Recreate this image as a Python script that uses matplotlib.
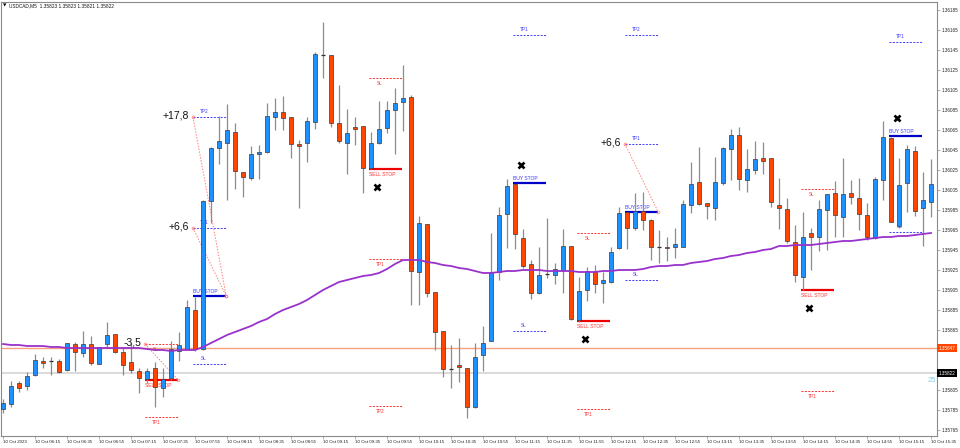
import matplotlib
matplotlib.use('Agg')
import matplotlib.pyplot as plt
from matplotlib.transforms import blended_transform_factory, ScaledTranslation

plt.rcParams['font.family'] = ['Liberation Sans', 'DejaVu Sans']

# ------------------------------------------------------------------
# USDCAD M5 candles
# ------------------------------------------------------------------
open_ = [1.35786, 1.35791, 1.35812, 1.35809, 1.35820, 1.35834, 1.35834, 1.35834, 1.35825, 1.35851,
         1.35842, 1.35851, 1.35831, 1.35851, 1.35861, 1.35843, 1.35833, 1.35824, 1.35816, 1.35827,
         1.35807, 1.35817, 1.35844, 1.35846, 1.35885, 1.35846, 1.35994, 1.36047, 1.36052, 1.36063,
         1.36023, 1.36017, 1.36041, 1.36043, 1.36078, 1.36083, 1.36078, 1.36051, 1.36052, 1.36073,
         1.36140, 1.36140, 1.36072, 1.36052, 1.36068, 1.36069, 1.36027, 1.36052, 1.36067, 1.36085,
         1.36093, 1.36098, 1.35923, 1.35971, 1.35903, 1.35864, 1.35826, 1.35830, 1.35827, 1.35788,
         1.35840, 1.35854, 1.35923, 1.35981, 1.36011, 1.35957, 1.35931, 1.35902, 1.35921, 1.35920,
         1.35925, 1.35949, 1.35875, 1.35905, 1.35923, 1.35912, 1.35913, 1.35947, 1.35983, 1.35967,
         1.35984, 1.35975, 1.35948, 1.35948, 1.35948, 1.35948, 1.35990, 1.36013, 1.35992, 1.35987,
         1.36012, 1.36046, 1.36060, 1.36015, 1.36025, 1.36037, 1.36037, 1.35990, 1.35986, 1.35953,
         1.35918, 1.35962, 1.35958, 1.35985, 1.36002, 1.35978, 1.36002, 1.35997, 1.35980, 1.35957,
         1.36015, 1.36057, 1.35969, 1.36012, 1.36044, 1.35987, 1.35993]

high = [1.35796, 1.35814, 1.35814, 1.35823, 1.35841, 1.35838, 1.35838, 1.35836, 1.35852, 1.35853,
        1.35864, 1.35859, 1.35848, 1.35873, 1.35861, 1.35848, 1.35852, 1.35827, 1.35827, 1.35833,
        1.35827, 1.35854, 1.35863, 1.35895, 1.35898, 1.35995, 1.36048, 1.36079, 1.36091, 1.36072,
        1.36023, 1.36049, 1.36050, 1.36092, 1.36097, 1.36099, 1.36078, 1.36055, 1.36078, 1.36143,
        1.36173, 1.36140, 1.36110, 1.36086, 1.36078, 1.36069, 1.36063, 1.36094, 1.36094, 1.36107,
        1.36130, 1.36100, 1.35979, 1.35971, 1.35903, 1.35864, 1.35850, 1.35857, 1.35827, 1.35852,
        1.35869, 1.35962, 1.35988, 1.36016, 1.36011, 1.35966, 1.35935, 1.35948, 1.35977, 1.35932,
        1.35966, 1.35949, 1.35918, 1.35928, 1.35930, 1.35923, 1.35948, 1.35988, 1.35983, 1.36002,
        1.36003, 1.35976, 1.35965, 1.35958, 1.35967, 1.35995, 1.36033, 1.36048, 1.35992, 1.36038,
        1.36048, 1.36066, 1.36068, 1.36046, 1.36054, 1.36053, 1.36037, 1.36017, 1.35997, 1.35970,
        1.35983, 1.35967, 1.35995, 1.36001, 1.36014, 1.36037, 1.36015, 1.36017, 1.35992, 1.36018,
        1.36074, 1.36058, 1.36037, 1.36050, 1.36049, 1.36023, 1.36036]

low = [1.35782, 1.35788, 1.35803, 1.35805, 1.35819, 1.35827, 1.35820, 1.35822, 1.35824, 1.35824,
       1.35838, 1.35830, 1.35831, 1.35847, 1.35842, 1.35820, 1.35822, 1.35802, 1.35812, 1.35788,
       1.35798, 1.35815, 1.35834, 1.35846, 1.35844, 1.35845, 1.35972, 1.36031, 1.35995, 1.36006,
       1.35998, 1.36015, 1.36016, 1.36042, 1.36065, 1.36065, 1.36037, 1.35987, 1.36033, 1.36066,
       1.36117, 1.36068, 1.36052, 1.36021, 1.36050, 1.36002, 1.36026, 1.36051, 1.36062, 1.36041,
       1.36064, 1.35890, 1.35890, 1.35898, 1.35845, 1.35818, 1.35807, 1.35813, 1.35777, 1.35787,
       1.35824, 1.35854, 1.35915, 1.35947, 1.35946, 1.35927, 1.35896, 1.35901, 1.35917, 1.35911,
       1.35902, 1.35875, 1.35873, 1.35894, 1.35902, 1.35892, 1.35912, 1.35946, 1.35946, 1.35965,
       1.35965, 1.35935, 1.35932, 1.35934, 1.35937, 1.35948, 1.35982, 1.35990, 1.35976, 1.35975,
       1.36010, 1.36015, 1.36005, 1.36003, 1.36021, 1.36021, 1.35988, 1.35966, 1.35952, 1.35913,
       1.35905, 1.35925, 1.35944, 1.35945, 1.35958, 1.35958, 1.35991, 1.35965, 1.35955, 1.35956,
       1.35995, 1.35973, 1.35967, 1.35983, 1.35979, 1.35949, 1.35978]

close = [1.35792, 1.35809, 1.35807, 1.35819, 1.35835, 1.35832, 1.35834, 1.35823, 1.35852, 1.35843,
         1.35851, 1.35832, 1.35848, 1.35860, 1.35843, 1.35830, 1.35825, 1.35817, 1.35824, 1.35808,
         1.35816, 1.35846, 1.35850, 1.35888, 1.35846, 1.35994, 1.36047, 1.36054, 1.36065, 1.36024,
         1.36018, 1.36041, 1.36043, 1.36079, 1.36083, 1.36077, 1.36051, 1.36049, 1.36074, 1.36141,
         1.36140, 1.36072, 1.36054, 1.36062, 1.36066, 1.36027, 1.36052, 1.36066, 1.36085, 1.36092,
         1.36097, 1.35924, 1.35972, 1.35902, 1.35863, 1.35826, 1.35826, 1.35828, 1.35788, 1.35838,
         1.35852, 1.35923, 1.35980, 1.36009, 1.35961, 1.35929, 1.35902, 1.35920, 1.35921, 1.35926,
         1.35949, 1.35876, 1.35904, 1.35924, 1.35911, 1.35915, 1.35943, 1.35982, 1.35967, 1.35984,
         1.35975, 1.35948, 1.35948, 1.35947, 1.35951, 1.35991, 1.36011, 1.35991, 1.35989, 1.36013,
         1.36047, 1.36060, 1.36016, 1.36026, 1.36036, 1.36034, 1.35993, 1.35987, 1.35954, 1.35920,
         1.35958, 1.35958, 1.35986, 1.36001, 1.35980, 1.36001, 1.35998, 1.35981, 1.35958, 1.36016,
         1.36058, 1.35973, 1.36010, 1.36046, 1.35984, 1.35995, 1.36011]

# moving average (purple)
ma = [1.35851, 1.35850, 1.35850, 1.35849, 1.35849, 1.35849, 1.35848, 1.35848, 1.35847, 1.35847,
      1.35847, 1.35847, 1.35847, 1.35847, 1.35847, 1.35847, 1.35847, 1.35847, 1.35846, 1.35845,
      1.35845, 1.35844, 1.35845, 1.35845, 1.35845, 1.35848, 1.35852, 1.35856, 1.35860, 1.35863,
      1.35866, 1.35869, 1.35873, 1.35876, 1.35881, 1.35885, 1.35888, 1.35891, 1.35895, 1.35900,
      1.35905, 1.35909, 1.35913, 1.35915, 1.35917, 1.35919, 1.35920, 1.35922, 1.35926, 1.35931,
      1.35935, 1.35935, 1.35935, 1.35933, 1.35932, 1.35930, 1.35929, 1.35927, 1.35926, 1.35924,
      1.35922, 1.35922, 1.35923, 1.35924, 1.35924, 1.35925, 1.35925, 1.35925, 1.35924, 1.35924,
      1.35924, 1.35924, 1.35923, 1.35923, 1.35923, 1.35924, 1.35924, 1.35925, 1.35925, 1.35925,
      1.35926, 1.35928, 1.35929, 1.35929, 1.35930, 1.35930, 1.35932, 1.35933, 1.35934, 1.35936,
      1.35937, 1.35939, 1.35940, 1.35942, 1.35943, 1.35945, 1.35946, 1.35949, 1.35949, 1.35950,
      1.35950, 1.35950, 1.35951, 1.35952, 1.35953, 1.35954, 1.35954, 1.35955, 1.35956, 1.35957,
      1.35958, 1.35958, 1.35959, 1.35959, 1.35960, 1.35961, 1.35962]

# pending-order signals
sig_start = [18, 24, 46, 64, 72, 78, 100, 111]
sig_side = ['sell', 'buy', 'sell', 'buy', 'sell', 'buy', 'sell', 'buy']
sig_entry = [1.35815, 1.35899, 1.36026, 1.36012, 1.35874, 1.35983, 1.35905, 1.36059]
sig_sl = [1.35851, 1.35831, 1.36117, 1.35864, 1.35962, 1.35915, 1.36006, 1.35963]
sig_tp1 = [1.35778, 1.35967, 1.35936, 1.36160, 1.35786, 1.36051, 1.35804, 1.36153]
sig_tp2 = [None, 1.36078, 1.35789, None, None, 1.36160, None, None]
sig_results = [[('sl', '-3,5')], [('tp1', '+6,6'), ('tp2', '+17,8')], [], [], [],
               [('tp1', '+6,6')], [], []]
sig_cancelled = [False, False, True, True, True, False, True, True]

# horizontal price lines
ask_line = 1.35847
bid_line = 1.35822

# axis labels
x_tick_idx = list(range(0, 117, 4))
x_tick_labels = ['10 Oct 2023', '10 Oct 06:15', '10 Oct 06:35', '10 Oct 06:55', '10 Oct 07:15',
                 '10 Oct 07:35', '10 Oct 07:55', '10 Oct 08:15', '10 Oct 08:35', '10 Oct 08:55',
                 '10 Oct 09:15', '10 Oct 09:35', '10 Oct 09:55', '10 Oct 10:15', '10 Oct 10:35',
                 '10 Oct 10:55', '10 Oct 11:15', '10 Oct 11:35', '10 Oct 11:55', '10 Oct 12:15',
                 '10 Oct 12:35', '10 Oct 12:55', '10 Oct 13:15', '10 Oct 13:35', '10 Oct 13:55',
                 '10 Oct 14:15', '10 Oct 14:35', '10 Oct 14:55', '10 Oct 15:15', '10 Oct 15:35']
y_ticks = [1.36185, 1.36165, 1.36145, 1.36125, 1.36105, 1.36085, 1.36065, 1.36045, 1.36025,
           1.36005, 1.35985, 1.35965, 1.35945, 1.35925, 1.35905, 1.35885, 1.35865, 1.35845,
           1.35825, 1.35805, 1.35785, 1.35765]
# these two labels sit under the price boxes in the reference
y_hidden = [1.35845, 1.35825]

# ------------------------------------------------------------------
BULL = '#1E90FF'
BEAR = '#FF4500'
WICK = '#8c8c8c'
PX = 0.72   # points per pixel at dpi 100

fig = plt.figure(figsize=(9.6, 4.48), dpi=100)
ax = fig.add_axes([1 / 960, 12 / 448, 936 / 960, 434 / 448])
ax.set_xlim(-0.25, 116.75)
ax.set_ylim(1.35759, 1.36193)
price_per_px = (1.36193 - 1.35759) / 434

# horizontal bid / ask lines
ax.axhline(ask_line, color='#F6A27E', lw=1.0, zorder=1)
ax.axhline(bid_line, color='#DADADA', lw=1.4, zorder=1)

# signals
for s, side, en, sl, t1, t2, res, cx in zip(sig_start, sig_side, sig_entry, sig_sl,
                                             sig_tp1, sig_tp2, sig_results, sig_cancelled):
    buy = side == 'buy'
    dot_c = '#3a3aff' if buy else '#ff3030'
    ent_c = '#0000c8' if buy else '#ee0000'
    up = 1 if buy else -1
    x0, x1 = s - 0.25, s + 3.9
    ax.hlines(en, x0, x1, colors=ent_c, lw=1.6, zorder=2)
    ax.annotate('BUY STOP' if buy else 'SELL STOP', (x0, en), xytext=(0, up * 5 * PX),
                textcoords='offset points', ha='left', va='center', fontsize=3.6,
                color=dot_c, zorder=2)
    levels = [('SL', sl), ('TP1', t1)]
    if t2 is not None:
        levels.append(('TP2', t2))
    for name, lv in levels:
        ax.hlines(lv, x0, x1, colors=dot_c, lw=0.7, linestyles=(0, (2, 1.5)), zorder=2)
        ax.annotate(name, (s + 1.1, lv), xytext=(0, up * 5.5 * PX), textcoords='offset points',
                    ha='center', va='center', fontsize=3.4, color=dot_c, zorder=2)
    lvmap = {'sl': sl, 'tp1': t1, 'tp2': t2}
    for key, txt in res:
        lv = lvmap[key]
        ax.plot([x0, x1], [lv, en], color='#ff8080', lw=0.7, ls=(0, (1.5, 1.5)), zorder=2)
        ax.plot([x0, x1], [lv, en], ls='none', marker='o', ms=2, mfc='none',
                mec='#ff8080', mew=0.5, zorder=2)
        ax.annotate(txt, (x0, lv), xytext=(-4 * PX, 1.5 * PX), textcoords='offset points',
                    ha='right', va='center', fontsize=7.5, color='#111111', zorder=6)
    if cx:
        ax.plot(s + 0.75, en + up * 18 * price_per_px, marker='x', ms=4.2, color='black',
                mew=1.9, zorder=6)

# candles
for i in range(len(open_)):
    o, h, l, c = open_[i], high[i], low[i], close[i]
    ax.vlines(i, l, h, colors=WICK, lw=0.9, zorder=3)
    if abs(c - o) < 1e-7:
        ax.hlines(o, i - 0.31, i + 0.31, colors='#333333', lw=0.9, zorder=4)
    else:
        col = BULL if c > o else BEAR
        ax.bar(i, abs(c - o), bottom=min(o, c), width=0.62, color=col,
               edgecolor='#3a3a3a', linewidth=0.5, zorder=4)

# moving average
ax.plot(range(len(ma)), ma, color='#9932CC', lw=1.3, zorder=5)

# axes styling
for sp in ax.spines.values():
    sp.set_color('#8a8a8a')
    sp.set_linewidth(0.8)

ax.set_xticks(x_tick_idx)
ax.set_xticklabels(x_tick_labels, fontsize=3.2, ha='left', color='#222222')
for lbl in ax.get_xticklabels():
    lbl.set_transform(lbl.get_transform() + ScaledTranslation(-2.5 / 100, 0, fig.dpi_scale_trans))
ax.tick_params(axis='x', length=2, width=0.5, color='#8a8a8a', pad=1.2)

ax.yaxis.tick_right()
ax.set_yticks(y_ticks)
ax.set_yticklabels(['' if v in y_hidden else f'{v:.5f}' for v in y_ticks],
                   fontsize=3.3, color='#222222')
ax.tick_params(axis='y', length=2, width=0.5, color='#8a8a8a', pad=1.2)

trans = blended_transform_factory(ax.transAxes, ax.transData)
ax.text(1.002, ask_line, f'{ask_line:.5f}', transform=trans, ha='left', va='center',
        fontsize=3.3, color='white', clip_on=False, zorder=10,
        bbox=dict(boxstyle='square,pad=0.35', fc='#FF4500', ec='none'))
ax.text(1.002, bid_line, f'{bid_line:.5f}', transform=trans, ha='left', va='center',
        fontsize=3.3, color='white', clip_on=False, zorder=10,
        bbox=dict(boxstyle='square,pad=0.35', fc='black', ec='none'))
ax.text(0.999, 1.35815, '25', transform=trans, ha='right', va='center',
        fontsize=5.5, color='#87CEEB', zorder=10)

# header
fig.text(3 / 960, 1 - 5.5 / 448, '\u25bc', fontsize=3.2, va='center', ha='left',
         family='DejaVu Sans', color='black')
fig.text(9 / 960, 1 - 5.5 / 448, 'USDCAD,M5  1.35823 1.35823 1.35821 1.35822', fontsize=3.4,
         va='center', ha='left', color='#111111')

fig.savefig('out.png', dpi=100, facecolor='white')
